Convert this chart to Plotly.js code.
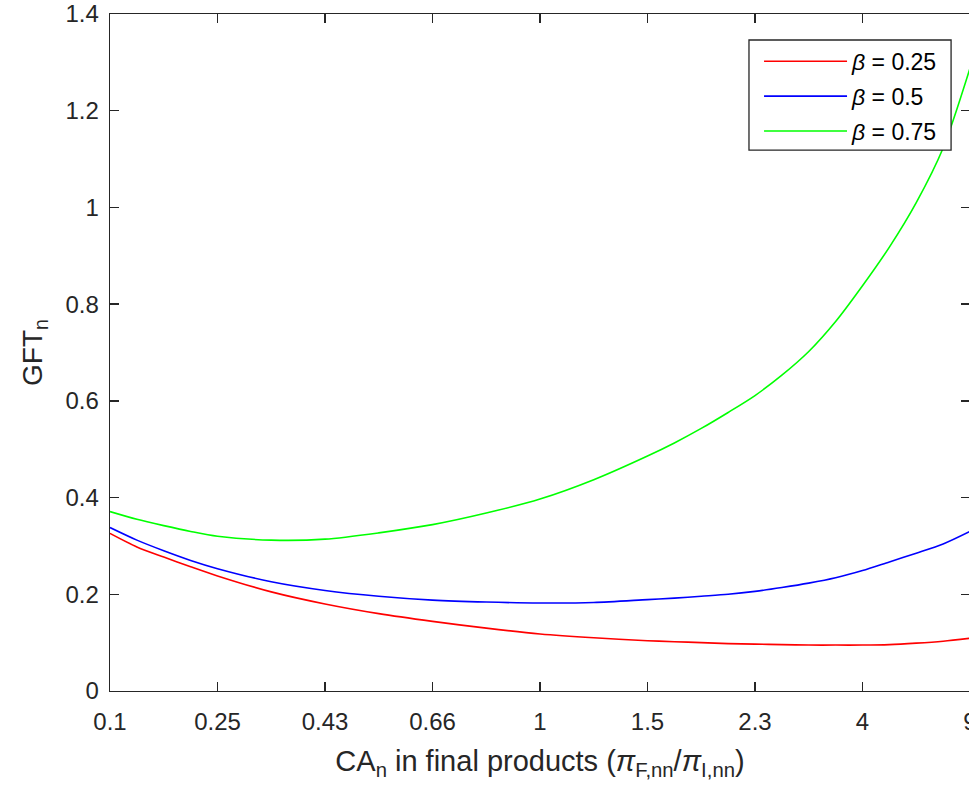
<!DOCTYPE html>
<html>
<head>
<meta charset="utf-8">
<script src="https://cdn.plot.ly/plotly-3.0.1.min.js"></script>
<style>
html,body{margin:0;padding:0;overflow:hidden;background:#fff;}
#chart{width:970px;height:792px;}
</style>
</head>
<body>
<div id="chart"></div>
<script>
// Underlying share p; tick labels show CA = p/(1-p)
const shareP = [0.1, 0.125, 0.15, 0.175, 0.2, 0.25, 0.3, 0.35, 0.4, 0.45, 0.5, 0.55, 0.6, 0.625, 0.65, 0.675, 0.7, 0.725, 0.75, 0.775, 0.8, 0.825, 0.85, 0.875, 0.9];
const gftBeta025 = [0.326, 0.298, 0.277, 0.257, 0.238, 0.205, 0.180, 0.160, 0.144, 0.130, 0.118, 0.110, 0.104, 0.102, 0.100, 0.098, 0.097, 0.096, 0.095, 0.095, 0.095, 0.096, 0.099, 0.103, 0.109];
const gftBeta050 = [0.338, 0.312, 0.290, 0.270, 0.253, 0.226, 0.208, 0.196, 0.188, 0.184, 0.182, 0.183, 0.189, 0.192, 0.196, 0.200, 0.206, 0.214, 0.223, 0.234, 0.249, 0.267, 0.285, 0.304, 0.330];
const gftBeta075 = [0.371, 0.355, 0.342, 0.330, 0.320, 0.312, 0.314, 0.327, 0.344, 0.368, 0.397, 0.437, 0.486, 0.513, 0.543, 0.576, 0.611, 0.653, 0.702, 0.764, 0.838, 0.918, 1.010, 1.123, 1.288];
const xTickVals = [0.1, 0.2, 0.3, 0.4, 0.5, 0.6, 0.7, 0.8, 0.9];
const xTickText = ['0.1', '0.25', '0.43', '0.66', '1', '1.5', '2.3', '4', '9'];
const yTickVals = [0, 0.2, 0.4, 0.6, 0.8, 1, 1.2, 1.4];
const yTickText = ['0', '0.2', '0.4', '0.6', '0.8', '1', '1.2', '1.4'];
const seriesNames = ['<i>β</i> = 0.25', '<i>β</i> = 0.5', '<i>β</i> = 0.75'];
const seriesColors = ['#ff0000', '#0000ff', '#00ff00'];
const seriesValues = [gftBeta025, gftBeta050, gftBeta075];

const font = 'Liberation Sans, Arial, Helvetica, sans-serif';
const traces = seriesValues.map((vals, i) => ({
  x: shareP, y: vals, type: 'scatter', mode: 'lines',
  name: seriesNames[i], legendgroup: 'g' + i,
  line: {color: seriesColors[i], width: 1.6, shape: 'spline', smoothing: 0.8}
}));

const axisCommon = {
  showgrid: false, zeroline: false, showline: true, linecolor: '#262626', linewidth: 1.3,
  mirror: 'allticks', ticks: 'inside', ticklen: 9, tickwidth: 1.3, tickcolor: '#262626',
  tickfont: {family: font, size: 24, color: '#262626'}, ticklabeloverflow: 'allow'
};

const layout = {
  width: 970, height: 792,
  margin: {l: 110, r: 0, t: 14, b: 101},
  paper_bgcolor: '#fff', plot_bgcolor: '#fff',
  showlegend: true,
  legend: {
    x: 0.7547, y: 0.962, xanchor: 'left', yanchor: 'top',
    borderwidth: 0, bgcolor: 'rgba(0,0,0,0)',
    font: {family: font, size: 23, color: '#000'},
    tracegroupgap: 2, itemwidth: 83
  },
  shapes: [{
    type: 'rect', xref: 'paper', yref: 'paper', layer: 'above',
    x0: 0.743, x1: 0.978, y0: 0.799, y1: 0.9616,
    line: {color: '#262626', width: 1.3}, fillcolor: '#ffffff'
  }],
  xaxis: Object.assign({}, axisCommon, {
    range: [0.1, 0.9], tickmode: 'array', tickvals: xTickVals, ticktext: xTickText,
    ticklabelstandoff: 9,
    title: {text: 'CA<sub>n</sub> in final products (<i>π</i><sub>F,nn</sub>/<i>π</i><sub>I,nn</sub>)',
            font: {family: font, size: 29, color: '#262626'}, standoff: 16}
  }),
  yaxis: Object.assign({}, axisCommon, {
    range: [0, 1.4], tickmode: 'array', tickvals: yTickVals, ticktext: yTickText,
    ticklabelstandoff: 5,
    title: {text: 'GFT<sub>n</sub>', font: {family: font, size: 28, color: '#262626'}, standoff: 14}
  })
};

Plotly.newPlot('chart', traces, layout, {displayModeBar: false, staticPlot: true});
</script>
</body>
</html>
